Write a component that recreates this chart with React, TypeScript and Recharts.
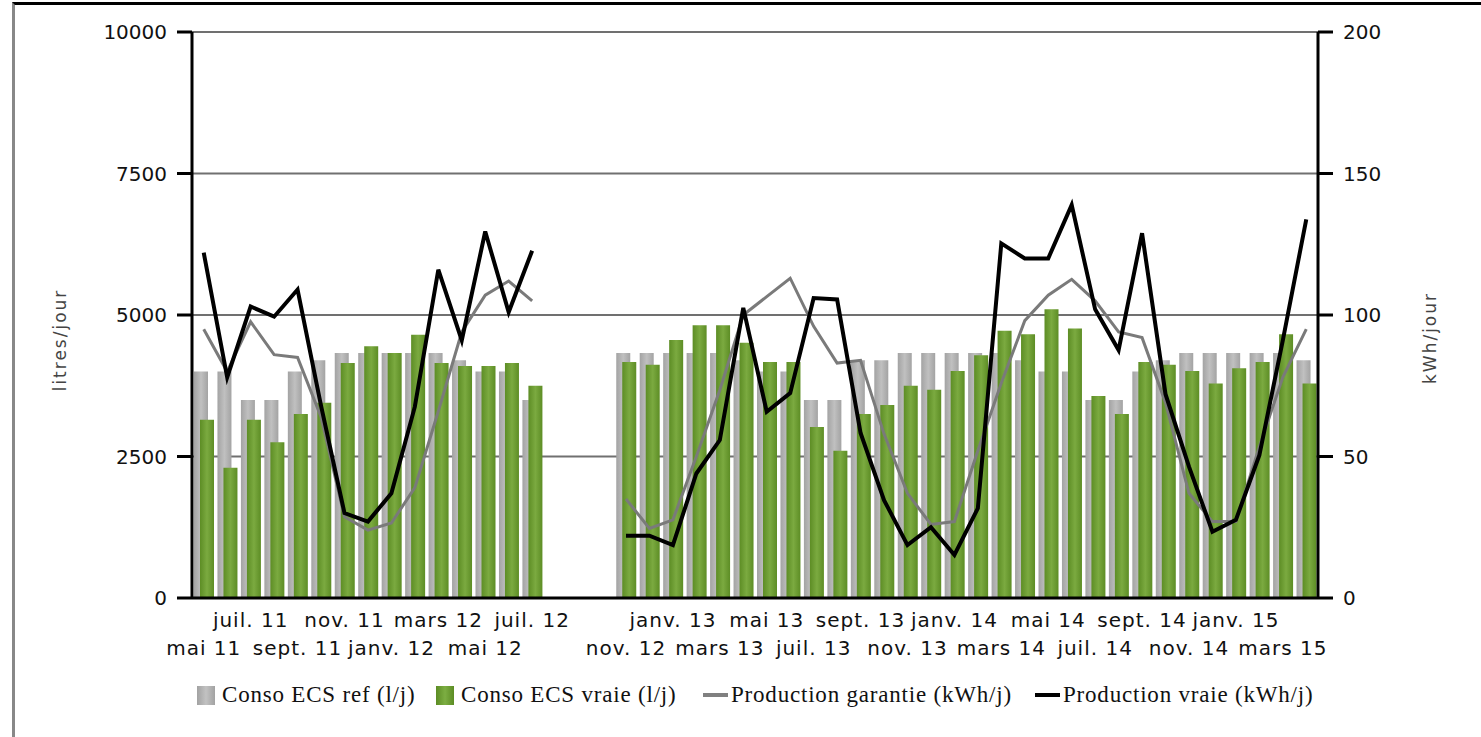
import React from "react"
import { ComposedChart, Bar, Line, XAxis, YAxis, CartesianGrid } from "recharts"

// Months on the category axis (août-oct. 12 have no data)
const months = [
  "mai 11", "juin 11", "juil. 11", "août 11", "sept. 11", "oct. 11", "nov. 11", "déc. 11",
  "janv. 12", "févr. 12", "mars 12", "avr. 12", "mai 12", "juin 12", "juil. 12", "août 12",
  "sept. 12", "oct. 12", "nov. 12", "déc. 12", "janv. 13", "févr. 13", "mars 13", "avr. 13",
  "mai 13", "juin 13", "juil. 13", "août 13", "sept. 13", "oct. 13", "nov. 13", "déc. 13",
  "janv. 14", "févr. 14", "mars 14", "avr. 14", "mai 14", "juin 14", "juil. 14", "août 14",
  "sept. 14", "oct. 14", "nov. 14", "déc. 14", "janv. 15", "févr. 15", "mars 15", "avr. 15",
]

// Conso ECS ref (l/j)
const consoRef = [
  4000, 4000, 3500, 3500, 4000, 4200, 4330, 4330, 4330, 4330, 4330, 4200, 4000, 4000, 3500, null,
  null, null, 4330, 4330, 4330, 4330, 4330, 4200, 4000, 4000, 3500, 3500, 4200, 4200, 4330, 4330,
  4330, 4330, 4330, 4200, 4000, 4000, 3500, 3500, 4000, 4200, 4330, 4330, 4330, 4330, 4330, 4200,
]

// Conso ECS vraie (l/j)
const consoVraie = [
  3150, 2300, 3150, 2750, 3250, 3450, 4150, 4450, 4330, 4650, 4150, 4100, 4100, 4150, 3750, null,
  null, null, 4170, 4120, 4560, 4820, 4820, 4510, 4170, 4170, 3020, 2600, 3250, 3410, 3750, 3680,
  4010, 4290, 4720, 4660, 5100, 4760, 3570, 3250, 4170, 4120, 4010, 3790, 4060, 4170, 4660, 3790,
]

// Production garantie (kWh/j)
const prodGarantie = [
  95, 80, 97.6, 86, 85, 64, 28.7, 24, 26.5, 39, 66, 94, 107, 112, 105, null,
  null, null, 35, 24.6, 27.6, 50, 73.5, 100, 106.5, 113, 96, 83, 84, 58, 37, 26,
  27, 52, 76, 98, 107, 112.6, 105, 94, 92, 69, 37, 27, 27, 53.5, 78, 95,
]

// Production vraie (kWh/j)
const prodVraie = [
  122, 78, 103, 99.4, 109, 68, 30, 27, 37, 67.6, 116, 91, 129.5, 101, 122.7, null,
  null, null, 22, 22, 18.7, 44, 55.8, 102.5, 65.8, 72.4, 106, 105.5, 58.3, 34.6, 18.7, 25,
  15.2, 31.7, 125.3, 120, 120, 138.9, 102, 87.6, 128.9, 72, 46.4, 23.4, 27.6, 50.5, 91, 133.8,
]

const leftTicks = [0, 2500, 5000, 7500, 10000]
const rightTicks = [0, 50, 100, 150, 200]

// note: no "ref"/"key" field names here, recharts spreads entries onto the shapes
const data = months.map((m, i) => ({
  month: m,
  consoRef: consoRef[i],
  consoVraie: consoVraie[i],
  prodGarantie: prodGarantie[i],
  prodVraie: prodVraie[i],
}))

const SANS = "DejaVu Sans"
const SERIF = "Liberation Serif"
const PLOT_BOTTOM = 598

// Excel-like staggered labels: every other month, alternating rows, skipping empty months
const renderMonthTick = (props: any) => {
  const { x, payload } = props
  const i = payload?.index ?? props.index
  if (i % 2 !== 0 || consoVraie[i] == null) return <g />
  let row = 0
  for (let j = 0; j < i; j += 2) if (consoVraie[j] != null) row++
  const y = row % 2 === 0 ? PLOT_BOTTOM + 57 : PLOT_BOTTOM + 29
  return (
    <text x={x} y={y} textAnchor="middle" fill="#111" fontSize={20} fontFamily={SANS} letterSpacing={1}>
      {payload.value}
    </text>
  )
}

const legendItems = [
  { label: "Conso ECS ref (l/j)", kind: "box", bg: "linear-gradient(90deg,#a2a2a2,#c2c2c2,#a2a2a2)", left: 197 },
  { label: "Conso ECS vraie (l/j)", kind: "box", bg: "linear-gradient(90deg,#5c8c24,#7cae42,#5c8c24)", left: 436 },
  { label: "Production garantie (kWh/j)", kind: "line", bg: "#808080", left: 703 },
  { label: "Production vraie (kWh/j)", kind: "line", bg: "#000", left: 1035 },
]

const axisTitle: React.CSSProperties = {
  position: "absolute",
  transform: "translate(-50%, -50%) rotate(-90deg)",
  fontFamily: SANS,
  fontSize: 17,
  letterSpacing: 2,
  color: "#444",
  whiteSpace: "nowrap",
}

export default function App() {
  return (
    <div style={{ position: "absolute", left: 0, top: 0, width: 1481, height: 737, background: "#fff", overflow: "hidden" }}>
      <div
        style={{
          position: "absolute",
          left: 12,
          top: 2,
          width: 1469,
          height: 735,
          borderTop: "3px solid #000",
          borderLeft: "3px solid #888",
          boxSizing: "border-box",
        }}
      />
      <div style={{ position: "absolute", left: 0, top: 0 }}>
        <ComposedChart
          width={1481}
          height={737}
          data={data}
          margin={{ top: 32, right: 0, left: 0, bottom: 57 }}
          barGap={-8}
          barCategoryGap={0}
        >
          <defs>
            <linearGradient id="grayBar" x1="0" y1="0" x2="1" y2="0">
              <stop offset="0%" stopColor="#a3a3a3" />
              <stop offset="50%" stopColor="#c0c0c0" />
              <stop offset="100%" stopColor="#a3a3a3" />
            </linearGradient>
            <linearGradient id="greenBar" x1="0" y1="0" x2="1" y2="0">
              <stop offset="0%" stopColor="#5d8d25" />
              <stop offset="50%" stopColor="#7baa40" />
              <stop offset="100%" stopColor="#5d8d25" />
            </linearGradient>
          </defs>
          <CartesianGrid yAxisId="left" vertical={false} stroke="#707070" strokeWidth={2} />
          <XAxis
            dataKey="month"
            interval={0}
            height={82}
            tickLine={false}
            axisLine={{ stroke: "#000", strokeWidth: 3 }}
            tick={renderMonthTick}
          />
          <YAxis
            yAxisId="left"
            width={192}
            domain={[0, 10000]}
            ticks={leftTicks}
            tickSize={15}
            tickMargin={10}
            tickLine={{ stroke: "#000", strokeWidth: 3 }}
            axisLine={{ stroke: "#000", strokeWidth: 3 }}
            tick={{ fill: "#111", fontSize: 20, fontFamily: SANS }}
          />
          <YAxis
            yAxisId="right"
            orientation="right"
            width={163}
            domain={[0, 200]}
            ticks={rightTicks}
            tickSize={15}
            tickMargin={10}
            tickLine={{ stroke: "#000", strokeWidth: 3 }}
            axisLine={{ stroke: "#000", strokeWidth: 3 }}
            tick={{ fill: "#111", fontSize: 20, fontFamily: SANS }}
          />
          <Bar yAxisId="left" dataKey="consoRef" name="Conso ECS ref (l/j)" barSize={14} fill="url(#grayBar)" isAnimationActive={false} />
          <Bar yAxisId="left" dataKey="consoVraie" name="Conso ECS vraie (l/j)" barSize={14} fill="url(#greenBar)" isAnimationActive={false} />
          <Line
            yAxisId="right"
            dataKey="prodGarantie"
            name="Production garantie (kWh/j)"
            type="linear"
            stroke="#7a7a7a"
            strokeWidth={3}
            dot={false}
            isAnimationActive={false}
          />
          <Line
            yAxisId="right"
            dataKey="prodVraie"
            name="Production vraie (kWh/j)"
            type="linear"
            stroke="#000"
            strokeWidth={4}
            dot={false}
            isAnimationActive={false}
          />
        </ComposedChart>
      </div>
      {legendItems.map((it) => (
        <div
          key={it.label}
          style={{ position: "absolute", left: it.left, top: 680, height: 30, display: "flex", alignItems: "center" }}
        >
          {it.kind === "box" ? (
            <div style={{ width: 18, height: 19, background: it.bg, marginRight: 7 }} />
          ) : (
            <div style={{ width: 25, height: 4, background: it.bg, marginRight: 3 }} />
          )}
          <span style={{ fontFamily: SERIF, fontSize: 23, letterSpacing: 0.8, color: "#111", whiteSpace: "nowrap" }}>
            {it.label}
          </span>
        </div>
      ))}
      <div style={{ ...axisTitle, left: 60, top: 340 }}>litres/jour</div>
      <div style={{ ...axisTitle, left: 1430, top: 338 }}>kWh/jour</div>
    </div>
  )
}
